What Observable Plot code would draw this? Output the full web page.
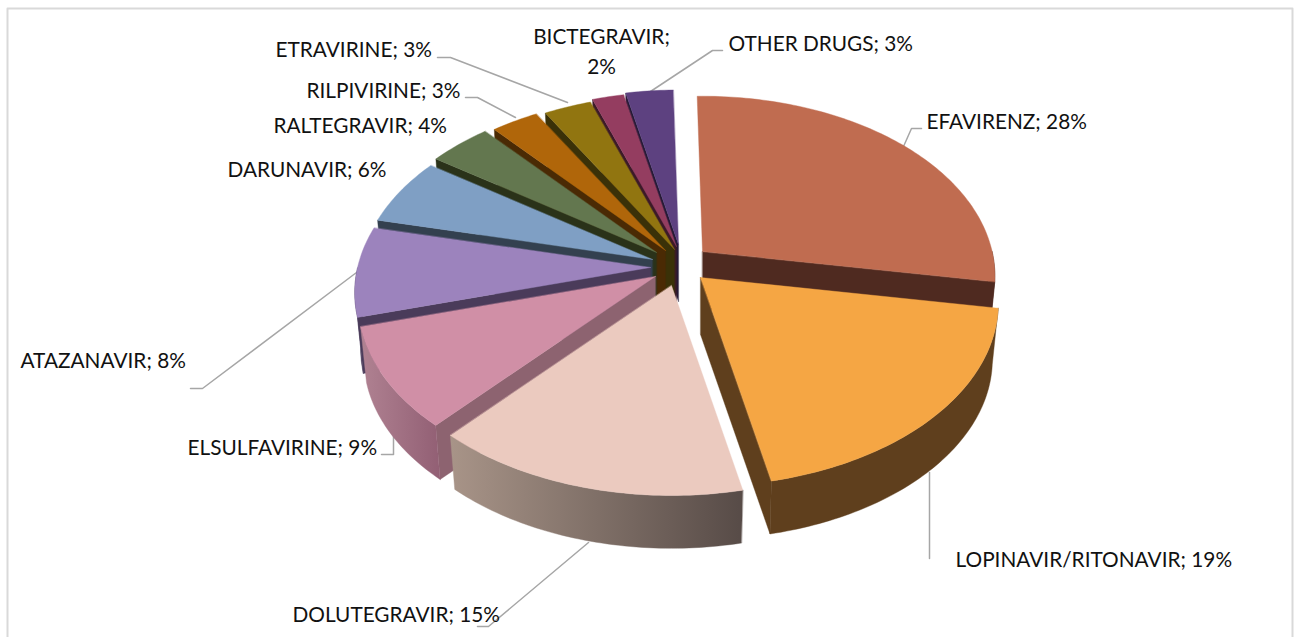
<!DOCTYPE html>
<html>
<head>
<meta charset="utf-8">
<script src="https://cdn.jsdelivr.net/npm/d3@7"></script>
<script src="https://cdn.jsdelivr.net/npm/@observablehq/plot@0.6"></script>
<style>
  html, body { margin: 0; padding: 0; background: #fff; overflow: hidden; }
</style>
</head>
<body>
<div id="chart"></div>
<script>
// Share of each antiretroviral drug, clockwise from just before twelve o'clock
const drugs = ["EFAVIRENZ", "LOPINAVIR/RITONAVIR", "DOLUTEGRAVIR", "ELSULFAVIRINE", "ATAZANAVIR",
  "DARUNAVIR", "RALTEGRAVIR", "RILPIVIRINE", "ETRAVIRINE", "BICTEGRAVIR", "OTHER DRUGS"];
const shares = [28, 19, 15, 9, 8, 6, 4, 3, 3, 2, 3];

// Slice colours: top face, straight cut face, and the curved rim (left to right)
const topColors = ["#c06c50", "#f5a644", "#ebcabf", "#d08fa6", "#9c83bd", "#7f9fc4",
  "#63774f", "#b0660a", "#917510", "#943d60", "#5d4180"];
const cutColors = ["#4f2a20", "#5f3f1d", "#5f504b", "#8d6370", "#4a3b5a", "#33404f",
  "#2a3219", "#4a2a04", "#3a3108", "#3c1a28", "#251a36"];
const rimLeft = ["#4f2a20", "#5f3f1d", "#a89488", "#b08292", "#4a3b5a", "#33404f",
  "#2a3219", "#4a2a04", "#3a3108", "#3c1a28", "#251a36"];
const rimRight = ["#4f2a20", "#5f3f1d", "#574b47", "#925f74", "#4a3b5a", "#33404f",
  "#2a3219", "#4a2a04", "#3a3108", "#3c1a28", "#251a36"];

// Where each exploded slice's tip lands
const tipX = [702, 700, 671, 655, 650, 652, 656, 665, 674, 676, 678];
const tipY = [251, 277, 285, 276, 267, 259, 252, 250, 249, 246, 244];

// Tilted-disc projection
const radiusX = 295, radiusY = 180, perspective = 0.138, thickness = 57;
const firstAngle = -1.2, depthScale = 0.0007, depthOrigin = 277, floorScale = 0.98;

// Back-to-front paint order
const paintOrder = [10, 9, 8, 7, 6, 5, 4, 3, 0, 1, 2];

// Text placement and leader lines
const labelX = [926, 955, 292, 187, 20, 227, 273, 306, 275, 601, 728];
const labelY = [122, 560, 615, 448, 361, 170, 126, 91, 50, 49, 44];
const labelBreak = [" ", " ", " ", " ", " ", " ", " ", " ", " ", "\n", " "];
const leaders = [
  [[903, 146], [911, 128], [921, 128]],
  [[929, 472], [929, 558]],
  [[588, 542], [488, 626], [477, 626]],
  [[393, 435], [393, 454], [381, 454]],
  [[356, 272], [202, 388], [190, 388]],
  [[437, 57], [450, 57], [567, 102]],
  [[465, 97], [477, 97], [515, 117]],
  [[650, 91], [712, 50], [722, 50]]
];
const frameLine = [[7, 640], [7, 8], [1292, 8], [1292, 640]];

const rad = d => d * Math.PI / 180;
const ends = d3.cumsum(shares).map(v => v * 3.6 + firstAngle);
const starts = ends.map((e, i) => e - shares[i] * 3.6);

// A point on the rim of slice i, on the top face or on the floor of the disc
function rimPoint(i, deg, floor) {
  const a = rad(deg), s = 1 / (1 + perspective * Math.cos(a));
  const k = (1 + (tipY[i] - depthOrigin) * depthScale) * (floor ? floorScale : 1);
  return {x: tipX[i] + k * radiusX * Math.sin(a) * s,
          y: tipY[i] - k * radiusY * Math.cos(a) * s + (floor ? thickness : 0)};
}
function arc(i, from, to, floor) {
  const n = Math.max(1, Math.ceil(Math.abs(to - from)));
  return d3.range(n + 1).map(j => rimPoint(i, from + (to - from) * j / n, floor));
}
const tip = (i, floor) => ({x: tipX[i], y: tipY[i] + (floor ? thickness : 0)});
const face = (pts, color) => Plot.line(pts, {x: "x", y: "y", fill: color, stroke: color,
  strokeWidth: 0.4, curve: "linear-closed"});

// Rim gradients live in their own defs block
const gradients = () => {
  const ns = "http://www.w3.org/2000/svg";
  const defs = document.createElementNS(ns, "defs");
  shares.forEach((_, i) => {
    const g = document.createElementNS(ns, "linearGradient");
    g.setAttribute("id", "rim" + i);
    [[0, rimLeft[i]], [1, rimRight[i]]].forEach(([o, c]) => {
      const st = document.createElementNS(ns, "stop");
      st.setAttribute("offset", o);
      st.setAttribute("stop-color", c);
      g.appendChild(st);
    });
    defs.appendChild(g);
  });
  return defs;
};

const sliceMarks = paintOrder.flatMap(i => {
  const out = [];
  const a0 = starts[i], a1 = ends[i];
  // Straight cut face: the end edge on the right half, the start edge on the left half
  const mid = (a0 + a1) / 2;
  if (mid < 180) {
    if (a1 < 180) out.push(face([tip(i, false), rimPoint(i, a1, false), rimPoint(i, a1, true), tip(i, true)], cutColors[i]));
  } else if (a0 > 180) {
    out.push(face([tip(i, false), rimPoint(i, a0, false), rimPoint(i, a0, true), tip(i, true)], cutColors[i]));
  }
  // Curved rim, only where it faces the viewer
  const r0 = Math.max(a0, 90), r1 = Math.min(a1, 270);
  if (r1 > r0) {
    const pts = [...arc(i, r0, r1, false), ...arc(i, r1, r0, true)];
    out.push(face(pts, `url(#rim${i})`));
  }
  // Top face
  out.push(face([tip(i, false), ...arc(i, a0, a1, false)], topColors[i]));
  return out;
});

const labels = drugs.map((d, i) => ({
  text: `${d};${labelBreak[i]}${shares[i]}%`,
  x: labelX[i], y: labelY[i],
  anchor: labelBreak[i] === "\n" ? "middle" : "start"
}));
const leaderRows = leaders.flatMap((l, k) => l.map(([x, y]) => ({x, y, k})));

const chart = Plot.plot({
  width: 1298,
  height: 637,
  margin: 0,
  x: {axis: null, domain: [0, 1298], range: [0, 1298]},
  y: {axis: null, domain: [0, 637], range: [0, 637]},
  style: {background: "#fff"},
  marks: [
    gradients,
    Plot.line(frameLine, {x: d => d[0], y: d => d[1], stroke: "#d9d9d9", strokeWidth: 2}),
    Plot.line(leaderRows, {x: "x", y: "y", z: "k", stroke: "#a6a6a6", strokeWidth: 1.5, curve: "linear"}),
    ...sliceMarks,
    Plot.text(labels.filter(d => d.anchor === "start"), {x: "x", y: "y", text: "text", textAnchor: "start",
      fill: "#111", fontSize: 20.8, fontFamily: "Lato"}),
    Plot.text(labels.filter(d => d.anchor === "middle"), {x: "x", y: "y", text: "text", textAnchor: "middle",
      fill: "#111", fontSize: 20.8, fontFamily: "Lato", lineHeight: 1.45})
  ]
});
document.getElementById("chart").appendChild(chart);
</script>
</body>
</html>
